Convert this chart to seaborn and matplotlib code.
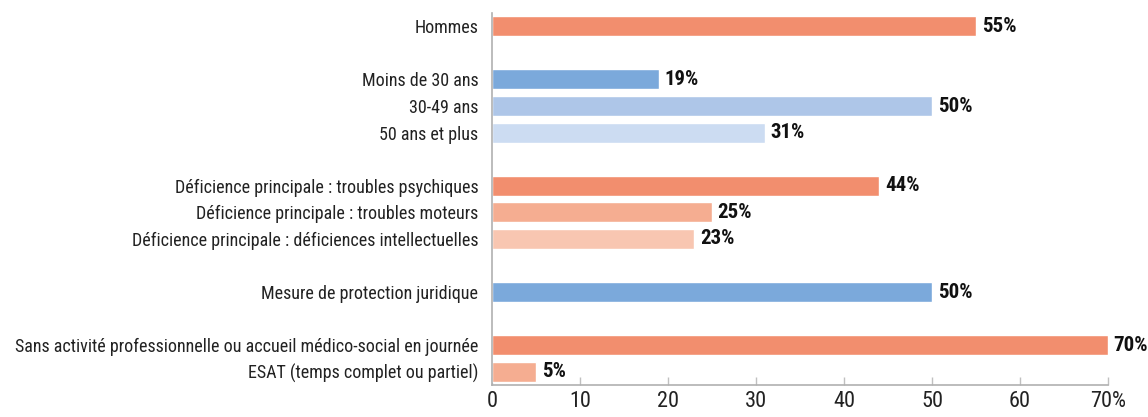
import matplotlib
matplotlib.use("Agg")
import matplotlib.pyplot as plt
from matplotlib import font_manager
import seaborn as sns
import pandas as pd

labels = ["Hommes", "Moins de 30 ans", "30-49 ans", "50 ans et plus",
          "Déficience principale : troubles psychiques",
          "Déficience principale : troubles moteurs",
          "Déficience principale : déficiences intellectuelles",
          "Mesure de protection juridique",
          "Sans activité professionnelle ou accueil médico-social en journée",
          "ESAT (temps complet ou partiel)"]
values = [55, 19, 50, 31, 44, 25, 23, 50, 70, 5]
rows = [0, 2, 3, 4, 6, 7, 8, 10, 12, 13]
colors = ["#F28E6E", "#7BA9DB", "#AEC6E8", "#CCDCF2", "#F28E6E", "#F5AD91",
          "#F8C6B1", "#7BA9DB", "#F28E6E", "#F5AD91"]
xticks = [0, 10, 20, 30, 40, 50, 60, 70]
xticklabels = ["0", "10", "20", "30", "40", "50", "60", "70%"]

sns.set_theme(style="white")
names = {f.name for f in font_manager.fontManager.ttflist}
fam = "DejaVu Sans"
for cand in ["Roboto Condensed", "Liberation Sans Narrow", "Open Sans Condensed", "DejaVu Sans Condensed"]:
    if cand in names:
        fam = cand
        break
plt.rcParams["font.family"] = [fam, "DejaVu Sans"]

df = pd.DataFrame({"label": labels, "value": values, "row": rows})
pal = dict(zip(labels, colors))

fig = plt.figure(figsize=(11.48, 4.17), dpi=100)
ax = fig.add_axes([0.4286, 0.0767, 0.9652 - 0.4286, 0.9688 - 0.0767])
sns.barplot(data=df, x="value", y="row", hue="label", palette=pal, orient="h",
            native_scale=True, width=0.75, legend=False, ax=ax, saturation=1, dodge=False)

ax.set_xlim(0, 70)
ax.set_ylim(13.5, -0.5)
ax.set_yticks(rows)
ax.set_yticklabels(labels, fontsize=13, color="#222222")
ax.set_xticks(xticks)
ax.set_xticklabels(xticklabels, fontsize=16, color="#222222")
ax.tick_params(axis="y", length=0, pad=10)
ax.tick_params(axis="x", direction="in", length=5.5, width=1, color="#c0c0c0", pad=4, bottom=True)
ax.set_xlabel("")
ax.set_ylabel("")
for s in ["top", "right"]:
    ax.spines[s].set_visible(False)
for s in ["left", "bottom"]:
    ax.spines[s].set_color("#b0b0b0")
    ax.spines[s].set_linewidth(1.2)

for r, v in zip(rows, values):
    ax.annotate(f"{v}%", xy=(v, r), xytext=(4, 0), textcoords="offset points",
                va="center", ha="left", fontsize=15, fontweight="bold", color="#111111")

fig.savefig("out.png", dpi=100)
